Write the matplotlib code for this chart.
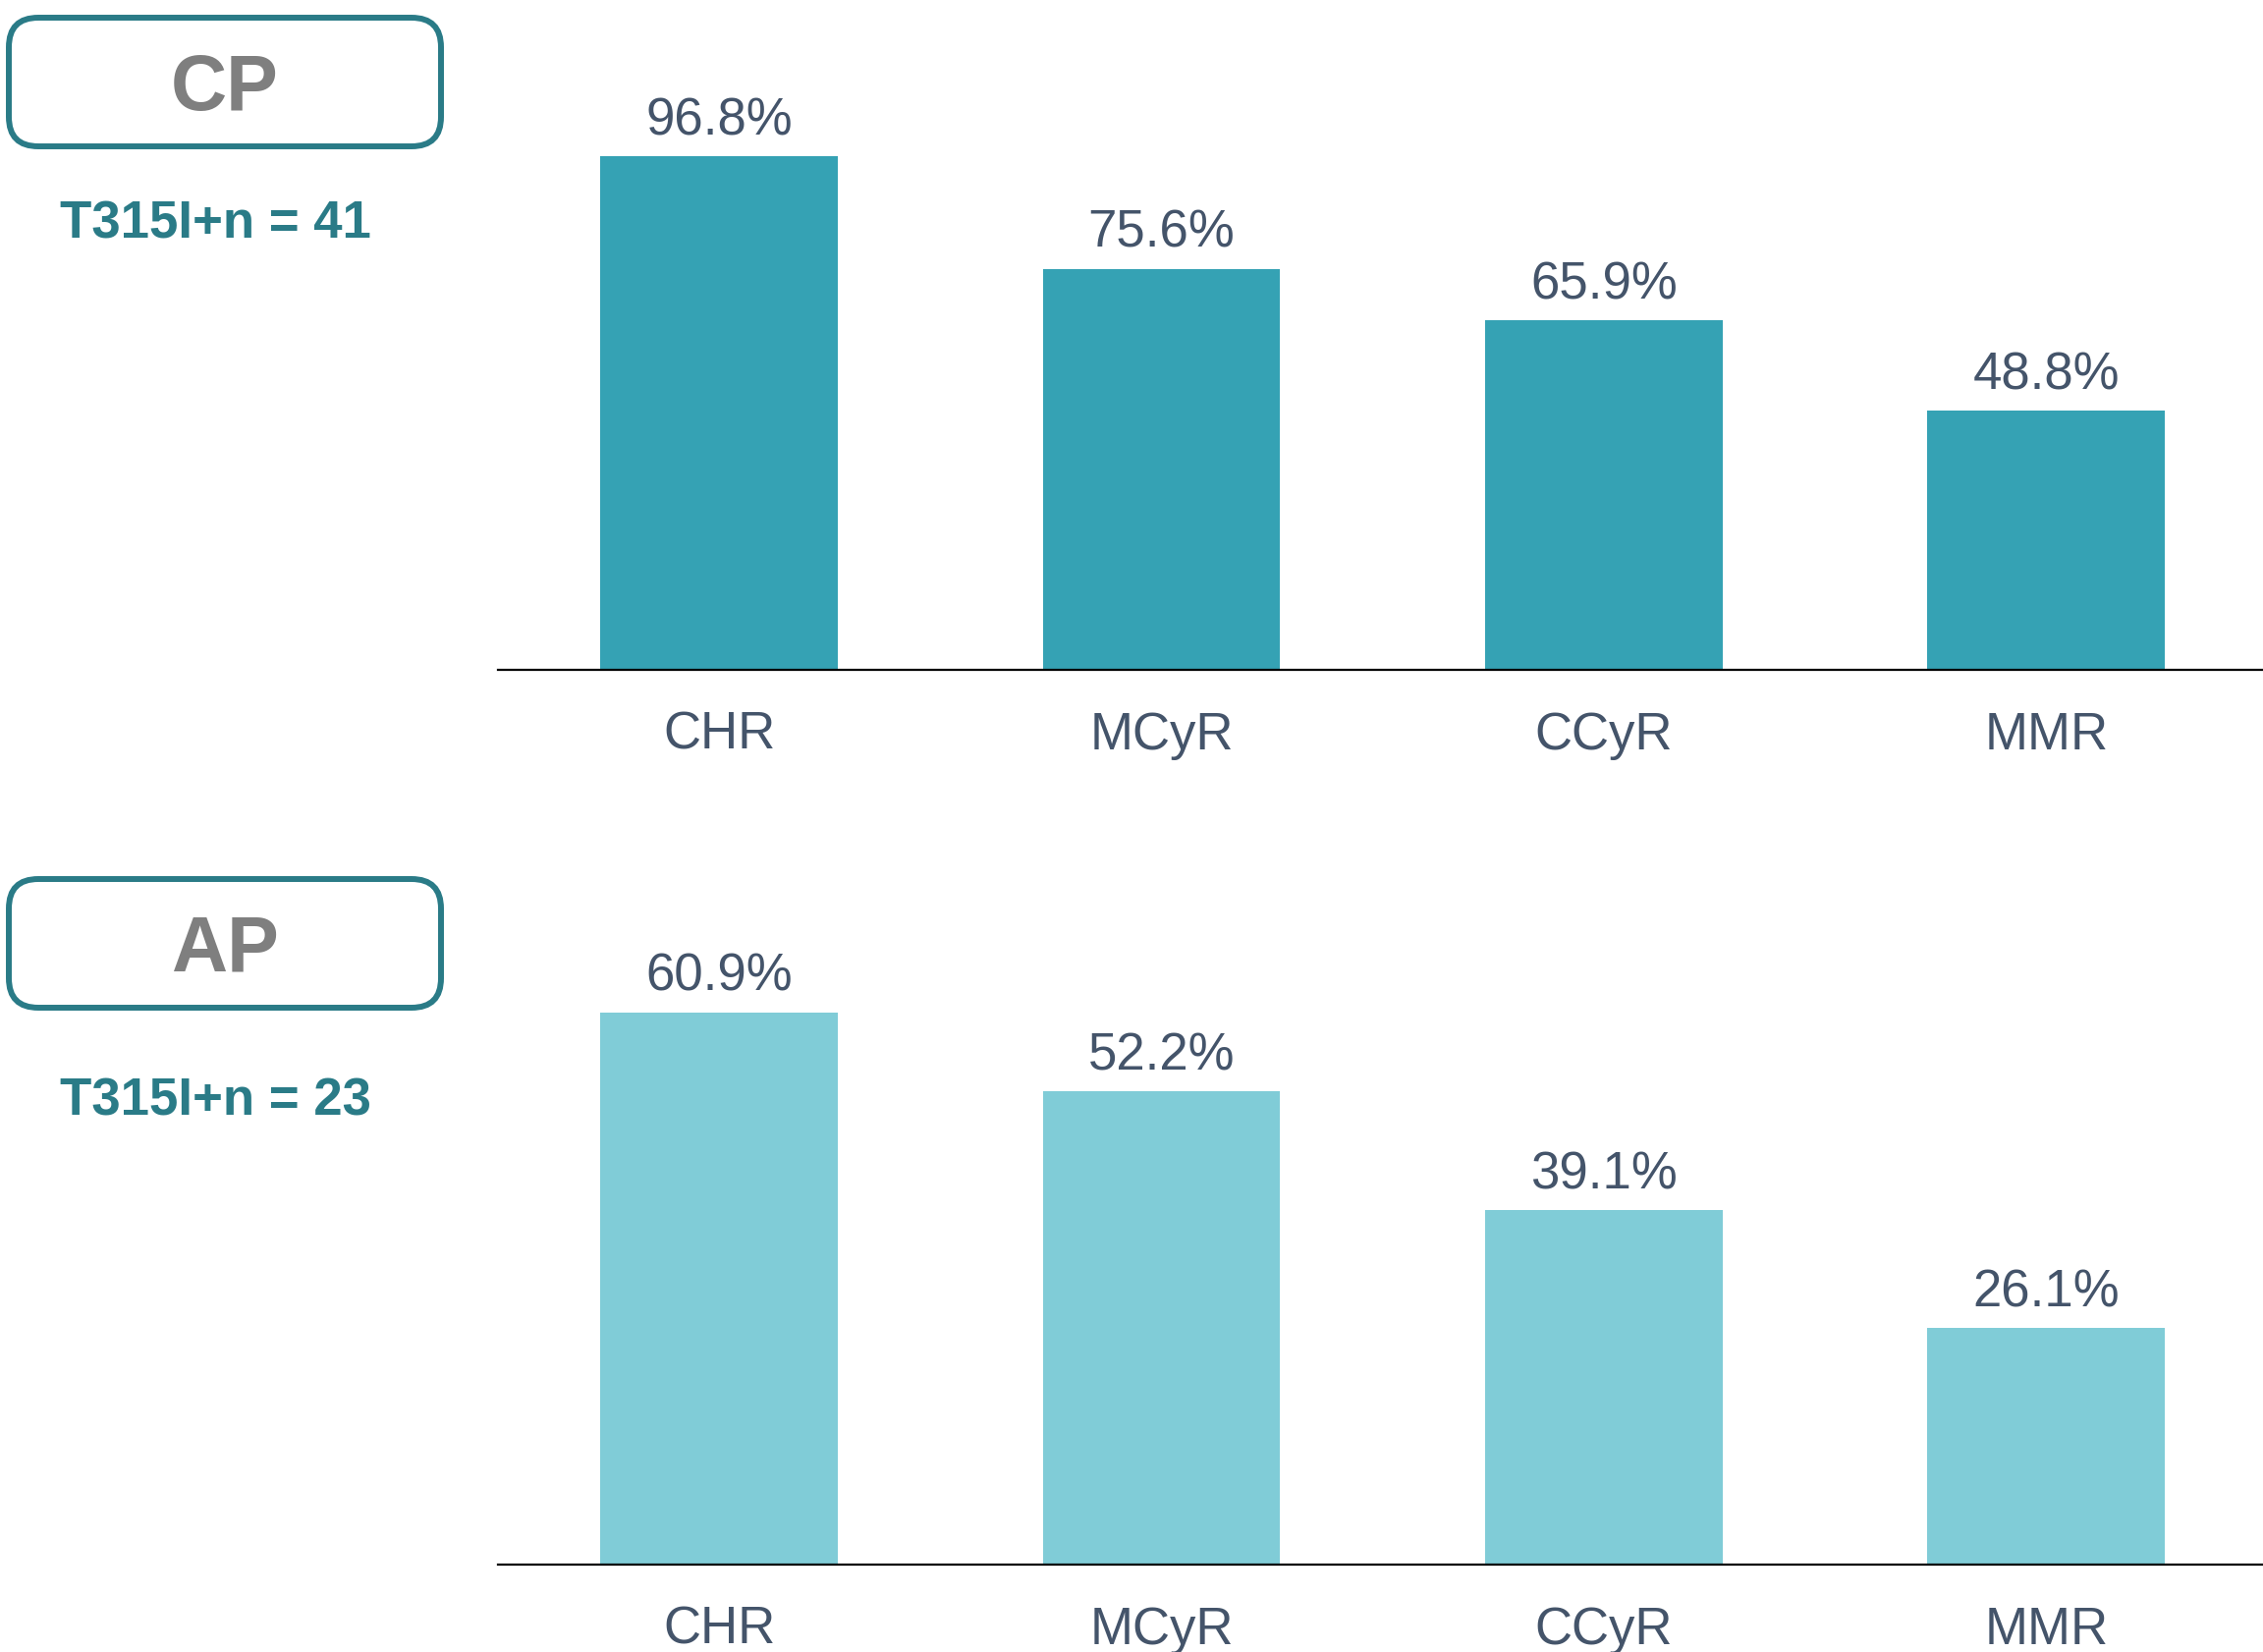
import matplotlib
matplotlib.use("Agg")
import matplotlib.pyplot as plt
from matplotlib.patches import FancyBboxPatch

plt.rcParams['font.family'] = ['Liberation Sans', 'DejaVu Sans']

categories = ["CHR", "MCyR", "CCyR", "MMR"]
cp_values = [96.8, 75.6, 65.9, 48.8]
ap_values = [60.9, 52.2, 39.1, 26.1]
panel_names = ["CP", "AP"]
panel_counts = ["T315I+n = 41", "T315I+n = 23"]

W, H = 2304, 1682
text_col = "#44546A"
teal = "#2A7B87"

fig = plt.figure(figsize=(W / 100, H / 100), dpi=100)

# bar panels: [left, bottom, width, height], ylim top, bar colour
panels = [
    (cp_values, [507 / W, 1000 / H, 1797 / W, 540 / H], 100, "#35A2B4"),
    (ap_values, [507 / W, 89 / H, 1797 / W, 646 / H], 70, "#80CCD7"),
]

for vals, rect, ytop, col in panels:
    ax = fig.add_axes(rect)
    x = range(len(categories))
    ax.bar(x, vals, width=0.537, color=col)
    ax.set_xlim(-0.5, 3.49)
    ax.set_ylim(0, ytop)
    for xi, v in zip(x, vals):
        ax.annotate(f"{v:.1f}%", (xi, v), xytext=(0, 8), textcoords="offset points",
                    ha="center", va="bottom", fontsize=38, color=text_col)
    ax.set_xticks(list(x))
    ax.set_xticklabels(categories, fontsize=38, color=text_col)
    ax.tick_params(axis="x", length=0, pad=30)
    ax.set_yticks([])
    for s in ["top", "right", "left"]:
        ax.spines[s].set_visible(False)
    ax.spines["bottom"].set_linewidth(1.6)
    ax.spines["bottom"].set_color("black")
    ax.set_facecolor("none")

# left side boxes and labels, in pixel coordinates
lab = fig.add_axes([0, 0, 1, 1], zorder=-1)
lab.set_xlim(0, W)
lab.set_ylim(H, 0)
lab.axis("off")

box_tops = [15, 892]
count_offsets = [213, 230]
for name, count, top, off in zip(panel_names, panel_counts, box_tops, count_offsets):
    box = FancyBboxPatch((9, top + 3), 440, 131, boxstyle="round,pad=0,rounding_size=30",
                         facecolor="white", edgecolor=teal, linewidth=4.3)
    lab.add_patch(box)
    lab.text(229, top + 76, name, ha="center", va="center", fontsize=57,
             fontweight="bold", color="#7F7F7F")
    lab.text(219, top + off, count, ha="center", va="center",
             fontsize=38, fontweight="bold", color=teal)

fig.savefig("out.png", dpi=100)
